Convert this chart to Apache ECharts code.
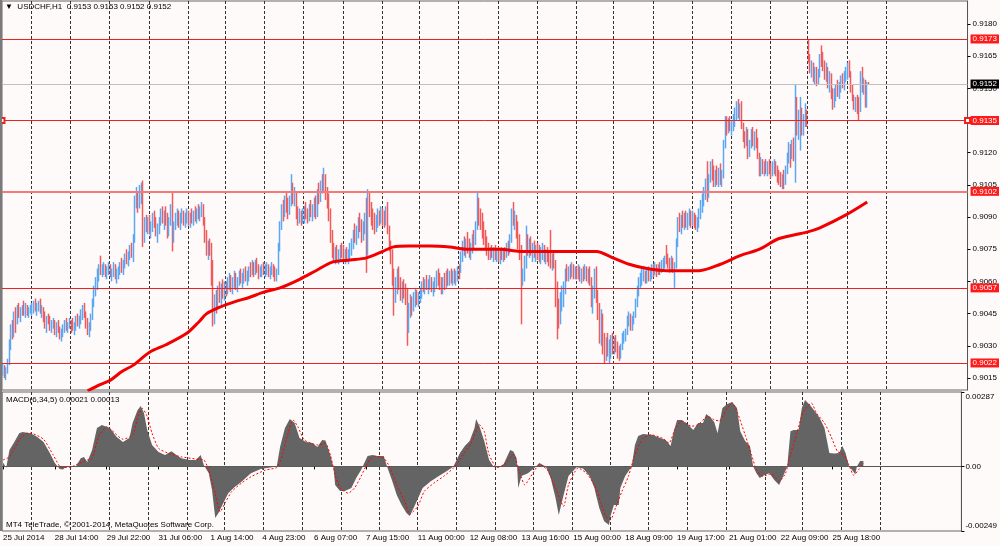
<!DOCTYPE html>
<html><head><meta charset="utf-8">
<script src="https://cdn.jsdelivr.net/npm/echarts@6/dist/echarts.min.js"></script>
<style>html,body{margin:0;padding:0;background:#fffafa;}#c{width:1000px;height:546px;}</style>
</head><body><div id="c"></div>
<script>
// Trading sessions: [day, first hour, number of H1 bars]
const sessions = [
  ['25 Jul',5,18],['28 Jul',0,24],['29 Jul',0,24],['30 Jul',0,24],['31 Jul',0,24],['1 Aug',0,23],
  ['4 Aug',0,24],['5 Aug',0,24],['6 Aug',0,24],['7 Aug',0,24],['8 Aug',0,23],
  ['11 Aug',0,24],['12 Aug',0,24],['13 Aug',0,24],['14 Aug',0,24],['15 Aug',0,23],
  ['18 Aug',0,24],['19 Aug',0,24],['20 Aug',0,24],['21 Aug',0,24],['22 Aug',0,23],
  ['25 Aug',0,24],['26 Aug',0,24],['27 Aug',0,24],['28 Aug',0,24],['29 Aug',0,23]
];
const SLOTS = 592;            // bar slots visible across the chart width
const FIRST_LABEL = '25 Jul 2014';
const LABEL_STEP = 32;
const GRID_LAST = 542;

// prices in units of 0.0001
const opens = [
9018,9020,9017,9019,9022,9031,9038,9036,9044,9040,9047,9045,9046,9047,9046,9048,9045,9046,
9047,9048,9049,9047,9049,9050,9046,9047,9042,9040,9043,9041,9039,9040,9041,9037,9039,9037,9035,9036,9039,9040,9038,9040,
9041,9040,9038,9039,9042,9041,9043,9045,9047,9044,9040,9037,9039,9043,9050,9056,9060,9064,9066,9064,9065,9066,9064,9066,
9067,9063,9064,9067,9062,9064,9065,9068,9066,9069,9071,9070,9073,9075,9073,9080,9097,9098,9095,9100,9102,9084,9087,9085,
9088,9084,9086,9090,9087,9083,9085,9088,9092,9089,9091,9088,9083,9088,9094,9080,9086,9089,9090,9087,9090,9091,9088,9090,
9092,9089,9091,9090,9092,9091,9093,9092,9094,9095,9088,9080,9075,9076,9074,9060,9045,9050,9048,9055,9053,9057,9055,
9058,9057,9059,9061,9058,9060,9063,9059,9061,9063,9062,9063,9065,9062,9064,9066,9064,9068,9065,9069,9066,9063,9064,9066,
9065,9065,9067,9064,9066,9068,9065,9062,9064,9076,9086,9094,9092,9097,9095,9093,9098,9102,9098,9100,9092,9090,9092,9088,
9091,9093,9091,9090,9094,9092,9095,9097,9091,9101,9098,9105,9104,9108,9100,9098,9090,9080,9074,9072,9074,9071,9073,9075,
9074,9071,9073,9072,9074,9076,9078,9082,9080,9084,9087,9085,9082,9086,9088,9074,9099,9094,9090,9088,9085,9089,9091,9088,
9092,9090,9088,9093,9084,9076,9070,9062,9052,9058,9062,9058,9054,9057,9055,9053,9040,9046,9050,9047,9052,9054,9051,
9053,9055,9058,9057,9059,9058,9060,9061,9057,9058,9061,9063,9060,9058,9056,9060,9058,9063,9061,9063,9062,9064,9062,9064,
9066,9065,9072,9077,9075,9078,9076,9074,9076,9080,9078,9086,9096,9090,9087,9083,9080,9078,9074,9073,9074,9072,9074,9072,
9073,9071,9073,9072,9074,9073,9076,9075,9080,9090,9088,9090,9082,9078,9073,9062,9064,9070,9078,9076,9078,9074,9076,9073,
9075,9074,9072,9074,9075,9071,9073,9072,9070,9068,9071,9068,9052,9045,9042,9050,9054,9057,9064,9062,9065,9063,9066,9064,
9065,9064,9066,9062,9064,9063,9066,9062,9064,9060,9052,9055,9063,9054,9046,9036,9040,9030,9026,9031,9028,9030,9032,
9029,9031,9029,9027,9025,9029,9034,9035,9036,9042,9043,9040,9042,9044,9050,9056,9060,9061,9063,9064,9062,9065,9063,9064,
9066,9065,9067,9064,9066,9065,9068,9069,9071,9070,9068,9066,9070,9066,9068,9078,9088,9086,9089,9087,9090,9088,9090,9091,
9088,9090,9088,9086,9087,9092,9096,9099,9102,9105,9100,9108,9114,9110,9107,9110,9108,9111,9107,9110,9124,9134,9131,9133,
9132,9133,9136,9139,9141,9139,9142,9133,9128,9127,9130,9121,9124,9128,9125,9128,9124,9119,9112,9115,9112,9114,9111,9114,
9113,9112,9114,9115,9111,9110,9108,9106,9109,9106,9112,9118,9122,9120,9124,9120,9146,9132,9136,9140,9130,9135,9137,
9173,9165,9159,9161,9155,9158,9153,9157,9164,9162,9160,9156,9158,9152,9155,9147,9143,9148,9150,9148,9151,9154,9152,9156,
9158,9160,9157,9150,9146,9143,9145,9144,9140,9156,9150,9153,9144,9153
];
const highs = [
9022,9021,9020,9024,9033,9040,9042,9046,9048,9049,9050,9048,9049,9051,9050,9049,9048,9049,
9050,9051,9052,9050,9051,9052,9049,9048,9046,9044,9045,9044,9042,9043,9042,9041,9042,9039,9038,9040,9042,9043,9041,9043,
9042,9043,9041,9044,9045,9044,9047,9049,9050,9046,9043,9041,9045,9052,9058,9062,9066,9068,9072,9068,9069,9068,9067,9069,
9068,9066,9069,9068,9066,9067,9069,9071,9070,9073,9075,9074,9077,9078,9082,9100,9104,9102,9105,9106,9107,9090,9091,9090,
9091,9088,9092,9093,9090,9087,9090,9094,9095,9093,9095,9092,9090,9096,9102,9088,9092,9094,9093,9092,9094,9093,9092,9094,
9093,9092,9094,9093,9095,9094,9096,9095,9097,9096,9090,9084,9079,9080,9078,9070,9054,9056,9058,9060,9059,9061,9060,
9060,9062,9064,9063,9062,9065,9064,9062,9065,9066,9064,9066,9067,9065,9067,9069,9070,9069,9070,9071,9068,9067,9068,9069,
9068,9069,9068,9067,9069,9068,9067,9066,9078,9088,9096,9098,9100,9102,9099,9100,9110,9106,9104,9102,9095,9094,9093,9094,
9095,9097,9094,9096,9098,9096,9099,9100,9103,9106,9107,9110,9113,9110,9104,9101,9094,9084,9078,9076,9077,9075,9077,9078,
9077,9075,9076,9075,9078,9080,9084,9087,9086,9090,9092,9089,9088,9092,9099,9103,9102,9097,9094,9092,9091,9094,9093,9095,
9094,9093,9095,9097,9086,9079,9075,9066,9062,9066,9067,9062,9060,9061,9059,9057,9050,9054,9053,9055,9057,9056,9055,
9057,9060,9062,9061,9063,9061,9063,9062,9060,9062,9065,9066,9064,9062,9062,9064,9065,9066,9065,9066,9065,9066,9065,9067,
9068,9074,9079,9081,9080,9083,9080,9078,9082,9084,9088,9102,9099,9094,9092,9088,9084,9081,9078,9076,9077,9076,9077,9075,
9076,9075,9076,9075,9076,9078,9079,9082,9094,9097,9093,9091,9088,9082,9077,9066,9072,9086,9082,9080,9081,9078,9079,9077,
9078,9077,9076,9078,9077,9075,9076,9074,9084,9073,9074,9070,9060,9052,9055,9058,9060,9066,9068,9067,9068,9069,9068,9067,
9067,9068,9067,9066,9067,9068,9067,9066,9067,9062,9058,9066,9067,9056,9050,9047,9045,9036,9034,9036,9033,9035,9036,
9034,9035,9032,9030,9031,9036,9037,9038,9044,9046,9045,9044,9046,9052,9058,9062,9064,9066,9067,9065,9066,9067,9066,9068,
9068,9069,9068,9068,9069,9070,9071,9072,9077,9073,9071,9072,9071,9069,9080,9090,9092,9091,9093,9092,9093,9092,9094,9093,
9093,9092,9091,9090,9094,9098,9101,9104,9108,9116,9110,9116,9117,9114,9112,9114,9113,9115,9112,9126,9137,9137,9136,9137,
9135,9138,9141,9144,9145,9143,9144,9134,9130,9132,9131,9126,9131,9132,9130,9131,9127,9120,9118,9117,9116,9117,9116,9117,
9115,9116,9117,9116,9114,9112,9111,9110,9112,9114,9120,9125,9124,9126,9127,9152,9146,9140,9146,9141,9138,9143,9140,
9173,9166,9163,9162,9160,9160,9159,9166,9170,9167,9163,9162,9160,9158,9157,9150,9150,9152,9154,9153,9156,9157,9158,9160,
9162,9163,9158,9152,9147,9146,9147,9146,9158,9160,9155,9154,9153,9153
];
const lows = [
9016,9015,9014,9017,9021,9028,9033,9034,9036,9040,9043,9041,9044,9044,9043,9044,9043,9045,
9044,9045,9046,9044,9046,9045,9043,9041,9038,9036,9040,9037,9036,9038,9035,9034,9036,9033,9032,9034,9036,9037,9036,9038,
9036,9037,9035,9037,9039,9038,9040,9042,9043,9038,9035,9034,9037,9042,9048,9053,9056,9060,9063,9062,9063,9062,9061,9063,
9062,9060,9062,9061,9059,9061,9063,9064,9063,9066,9068,9067,9070,9071,9069,9078,9094,9092,9094,9096,9076,9078,9083,9082,
9082,9080,9083,9085,9081,9078,9082,9086,9087,9084,9086,9080,9081,9086,9074,9078,9084,9086,9085,9084,9087,9086,9085,9087,
9086,9085,9087,9086,9088,9087,9089,9088,9090,9086,9078,9072,9070,9072,9058,9039,9040,9045,9047,9050,9049,9052,9051,
9053,9054,9056,9055,9054,9057,9056,9055,9058,9059,9057,9059,9060,9058,9060,9062,9063,9062,9063,9064,9061,9062,9062,9063,
9062,9063,9062,9061,9063,9062,9060,9060,9063,9074,9084,9088,9090,9092,9089,9091,9095,9096,9095,9089,9086,9087,9086,9087,
9087,9089,9087,9088,9090,9088,9090,9089,9090,9096,9097,9101,9102,9098,9094,9088,9078,9071,9069,9068,9070,9068,9070,9071,
9069,9068,9069,9068,9070,9072,9075,9078,9077,9080,9083,9078,9079,9082,9064,9072,9090,9086,9084,9082,9083,9085,9086,9087,
9086,9085,9086,9082,9074,9068,9058,9044,9050,9054,9056,9051,9050,9052,9049,9030,9036,9043,9044,9046,9048,9049,9048,
9050,9052,9055,9054,9056,9054,9056,9055,9053,9055,9057,9058,9056,9054,9054,9056,9057,9058,9058,9059,9058,9059,9058,9060,
9061,9064,9069,9072,9071,9073,9071,9070,9073,9075,9077,9084,9086,9084,9080,9077,9075,9072,9070,9070,9071,9069,9070,9069,
9069,9068,9070,9069,9070,9071,9072,9073,9078,9086,9084,9080,9075,9070,9040,9058,9060,9066,9072,9071,9072,9069,9071,9069,
9070,9069,9068,9070,9069,9068,9069,9067,9066,9065,9066,9048,9033,9038,9040,9046,9048,9054,9060,9060,9061,9062,9061,9061,
9061,9061,9060,9059,9060,9061,9060,9059,9058,9048,9045,9052,9050,9042,9031,9030,9026,9022,9023,9025,9022,9024,9026,
9026,9027,9024,9023,9024,9028,9031,9032,9035,9039,9037,9037,9040,9043,9048,9053,9057,9058,9060,9059,9059,9060,9060,9061,
9062,9063,9062,9063,9063,9064,9065,9066,9068,9066,9064,9065,9064,9057,9066,9076,9083,9082,9085,9084,9085,9084,9086,9085,
9086,9085,9084,9083,9085,9089,9092,9095,9098,9097,9099,9106,9107,9104,9104,9105,9104,9105,9104,9108,9122,9128,9129,9130,
9128,9130,9132,9135,9136,9135,9131,9125,9122,9123,9117,9118,9122,9123,9121,9122,9117,9109,9109,9110,9109,9110,9109,9110,
9108,9109,9110,9109,9106,9105,9104,9103,9103,9105,9110,9115,9113,9117,9116,9106,9128,9126,9121,9128,9128,9132,9132,
9162,9157,9155,9153,9152,9151,9152,9155,9160,9158,9154,9153,9150,9148,9145,9140,9141,9144,9146,9145,9148,9150,9149,9153,
9154,9155,9148,9144,9140,9139,9138,9135,9139,9148,9147,9141,9141,9152
];
const closes = [
9020,9017,9019,9022,9031,9038,9036,9044,9040,9047,9045,9046,9047,9046,9048,9045,9046,9047,
9048,9049,9047,9049,9050,9046,9047,9042,9040,9043,9041,9039,9040,9041,9037,9039,9037,9035,9036,9039,9040,9038,9040,9041,
9040,9038,9039,9042,9041,9043,9045,9047,9044,9040,9037,9039,9043,9050,9056,9060,9064,9066,9064,9065,9066,9064,9066,9067,
9063,9064,9067,9062,9064,9065,9068,9066,9069,9071,9070,9073,9075,9073,9080,9097,9098,9095,9100,9102,9084,9087,9085,9088,
9084,9086,9090,9087,9083,9085,9088,9092,9089,9091,9088,9083,9088,9094,9080,9086,9089,9090,9087,9090,9091,9088,9090,9092,
9089,9091,9090,9092,9091,9093,9092,9094,9095,9088,9080,9075,9076,9074,9060,9045,9050,9048,9055,9053,9057,9055,9058,
9057,9059,9061,9058,9060,9063,9059,9061,9063,9062,9063,9065,9062,9064,9066,9064,9068,9065,9069,9066,9063,9064,9066,9065,
9065,9067,9064,9066,9068,9065,9062,9064,9076,9086,9094,9092,9097,9095,9093,9098,9102,9098,9100,9092,9090,9092,9088,9091,
9093,9091,9090,9094,9092,9095,9097,9091,9101,9098,9105,9104,9108,9100,9098,9090,9080,9074,9072,9074,9071,9073,9075,9074,
9071,9073,9072,9074,9076,9078,9082,9080,9084,9087,9085,9082,9086,9088,9074,9099,9094,9090,9088,9085,9089,9091,9088,9092,
9090,9088,9093,9084,9076,9070,9062,9052,9058,9062,9058,9054,9057,9055,9053,9040,9046,9050,9047,9052,9054,9051,9053,
9055,9058,9057,9059,9058,9060,9061,9057,9058,9061,9063,9060,9058,9056,9060,9058,9063,9061,9063,9062,9064,9062,9064,9066,
9065,9072,9077,9075,9078,9076,9074,9076,9080,9078,9086,9096,9090,9087,9083,9080,9078,9074,9073,9074,9072,9074,9072,9073,
9071,9073,9072,9074,9073,9076,9075,9080,9090,9088,9090,9082,9078,9073,9062,9064,9070,9078,9076,9078,9074,9076,9073,9075,
9074,9072,9074,9075,9071,9073,9072,9070,9068,9071,9068,9052,9045,9042,9050,9054,9057,9064,9062,9065,9063,9066,9064,9065,
9064,9066,9062,9064,9063,9066,9062,9064,9060,9052,9055,9063,9054,9046,9036,9040,9030,9026,9031,9028,9030,9032,9029,
9031,9029,9027,9025,9029,9034,9035,9036,9042,9043,9040,9042,9044,9050,9056,9060,9061,9063,9064,9062,9065,9063,9064,9066,
9065,9067,9064,9066,9065,9068,9069,9071,9070,9068,9066,9070,9066,9068,9078,9088,9086,9089,9087,9090,9088,9090,9091,9088,
9090,9088,9086,9087,9092,9096,9099,9102,9105,9100,9108,9114,9110,9107,9110,9108,9111,9107,9110,9124,9134,9131,9133,9132,
9133,9136,9139,9141,9139,9142,9133,9128,9127,9130,9121,9124,9128,9125,9128,9124,9119,9112,9115,9112,9114,9111,9114,9113,
9112,9114,9115,9111,9110,9108,9106,9109,9106,9112,9118,9122,9120,9124,9120,9146,9132,9136,9140,9130,9135,9137,9135,
9165,9159,9161,9155,9158,9153,9157,9164,9162,9160,9156,9158,9152,9155,9147,9143,9148,9150,9148,9151,9154,9152,9156,9158,
9160,9157,9150,9146,9143,9145,9144,9140,9156,9150,9153,9144,9153,9152
];

// moving average (red), read at sample bars, price units 0.0001
const maBars = [52,60,66,73,80,90,100,113,120,125,133,142,151,160,170,182,192,202,213,223,233,239,249,262,274,284,305,317,341,364,374,384,395,407,419,427,440,452,464,476,493,501,517,530];
const maValues = [9009,9012,9014,9018,9021,9027,9030.5,9036,9041,9045,9048,9050.5,9052.5,9055,9057,9061,9065,9069,9070,9071,9074,9076,9076.5,9076.5,9076,9075,9075,9074,9074,9074,9071,9068,9066,9065,9065,9065,9068,9072,9075,9080,9083,9085,9091,9097];

// MACD(6,34,5), units of 0.00001, read at sample bars
const macdBars = [0,2,4,7,10,12,17,21,25,29,32,35,37,39,42,45,48,50,52,55,58,61,66,70,74,78,80,83,85,87,89,92,96,100,104,107,110,115,119,122,124,127,129,131,133,136,139,143,147,153,159,166,169,171,174,177,180,183,187,191,194,197,199,202,204,205,208,211,215,218,221,223,225,228,231,235,237,240,243,246,249,251,254,259,264,269,274,278,282,285,288,291,292,294,297,300,303,306,309,313,315,317,318,320,324,329,331,335,338,341,343,346,349,354,358,362,365,366,368,371,374,375,377,380,381,384,388,390,392,395,401,404,409,412,414,416,419,423,426,429,432,434,437,439,441,444,447,450,453,455,458,461,463,465,467,470,473,476,479,481,484,486,488,491,493,495,498,501,504,507,510,513,516,518,520,522,524,526,527,529,531];
const macdValues = [15,-5,63,94,128,133,128,114,94,51,13,-10,-12,0,-3,0,32,36,17,63,148,160,148,114,94,110,167,217,233,206,140,83,56,44,59,44,32,25,25,44,5,-26,-91,-199,-180,-141,-103,-79,-60,-26,-10,-3,2,75,148,183,167,110,94,90,75,102,100,44,-6,-72,-95,-95,-83,-45,-14,13,40,44,40,40,0,-52,-110,-149,-180,-191,-153,-83,-57,-37,-18,0,52,79,98,148,183,156,98,25,-3,-3,9,63,58,32,-83,-37,-26,0,13,0,-45,-122,-187,-110,-37,-3,-8,-37,-83,-110,-160,-211,-226,-190,-149,-149,-83,-37,0,83,117,125,121,113,102,79,136,179,179,160,140,167,167,202,187,170,128,225,241,248,225,136,98,79,0,-26,-45,-33,-26,-52,-72,-45,0,136,140,140,225,256,237,213,187,148,52,50,52,79,52,4,-14,-30,0,21,21];
const signalBars = [0,4,10,15,18,25,31,36,41,47,52,55,59,64,67,74,80,84,86,89,92,96,102,110,121,124,127,131,134,137,141,147,153,162,169,172,176,179,182,186,194,199,202,205,208,213,217,221,225,229,235,239,243,248,251,256,260,266,272,278,284,289,294,297,300,305,309,315,319,322,327,331,336,341,346,349,355,360,365,369,372,375,378,382,386,390,395,400,407,411,415,419,425,429,435,439,442,447,450,453,458,462,465,469,474,479,483,486,490,494,499,502,507,511,515,519,522,525,528,531];
const signalValues = [25,37,102,128,127,105,44,-4,-4,12,25,31,115,153,140,105,121,205,224,192,128,70,51,37,27,25,-14,-104,-175,-142,-98,-65,-40,-14,-4,37,128,179,153,102,83,89,45,-32,-83,-103,-83,-38,13,39,32,-6,-71,-135,-184,-154,-96,-64,-38,-6,45,90,161,135,45,-4,4,45,-26,-71,-26,7,-13,-83,-154,-71,-6,-26,-71,-141,-192,-205,-160,-96,-38,45,109,122,109,90,148,174,155,161,193,180,175,225,244,212,122,45,-13,-38,-29,-57,-26,45,129,212,244,206,167,116,58,45,7,-34,-13,13];

// horizontal levels and axis ticks
const levelLines = [9173, 9135, 9102, 9057, 9022];
const lastPrice = 9152;
const priceTicks = [9015,9030,9045,9060,9075,9090,9105,9120,9135,9150,9165,9180];
const macdTicks = [287, 0, -249];
const priceRange = [9009.4, 9190.7];
const macdRange = [-249, 287];

// ---------- build ----------
const categories = []; const dayStarts = [];
sessions.forEach(([d, h0, n]) => {
  dayStarts.push(categories.length);
  for (let k = 0; k < n; k++) categories.push(d + ' ' + String(h0 + k).padStart(2, '0') + ':00');
});
categories.length = SLOTS;
const dayStartSet = new Set(dayStarts.filter(i => i > 0 && i <= GRID_LAST));
const lastBar = closes.length - 1;
const P = v => v / 1e4, M = v => v / 1e5;
const candles = opens.map((o, i) => [P(o), P(closes[i]), P(lows[i]), P(highs[i])]);
const FONT = '"Liberation Sans", Arial, sans-serif';
const BLUE = '#5aa8f4', RED = '#f25a5a';

const splitLine = { show: true, interval: (i) => dayStartSet.has(i), lineStyle: { color: '#333', width: 1, type: [3, 2] } };
const labelInterval = (i) => i % LABEL_STEP === 0 && i <= lastBar;

function lvl(v, color, width, bg) {
  return {
    yAxis: P(v),
    lineStyle: { color: color, width: width, type: 'solid' },
    label: { show: true, position: 'end', distance: 3, formatter: P(v).toFixed(4), color: '#fff', backgroundColor: bg, padding: [1, 2, 0, 2], fontSize: 8, fontFamily: FONT }
  };
}

const chart = echarts.init(document.getElementById('c'), null, { renderer: 'canvas' });
chart.setOption({
  animation: false,
  backgroundColor: '#fffafa',
  grid: [
    { left: 2, top: 1, width: 966, height: 389, show: true, borderColor: '#666', borderWidth: 1 },
    { left: 2, top: 392, width: 966, height: 139, show: true, borderColor: '#666', borderWidth: 1 }
  ],
  xAxis: [
    { type: 'category', gridIndex: 0, data: categories, boundaryGap: true, axisLine: { show: false }, axisTick: { show: false }, axisLabel: { show: false }, splitLine: splitLine },
    { type: 'category', gridIndex: 1, data: categories, boundaryGap: true,
      axisLine: { show: true, lineStyle: { color: '#555' } },
      axisTick: { show: true, alignWithLabel: true, interval: labelInterval, length: 3, lineStyle: { color: '#000' } },
      axisLabel: { interval: labelInterval, formatter: (v, i) => i === 0 ? FIRST_LABEL : v, align: 'left', fontSize: 8, color: '#000', margin: 3, fontFamily: FONT },
      splitLine: splitLine }
  ],
  yAxis: [
    { type: 'value', gridIndex: 0, position: 'right', min: P(priceRange[0]), max: P(priceRange[1]),
      axisLine: { show: true, lineStyle: { color: '#555' } },
      axisTick: { show: true, customValues: priceTicks.map(P), length: 3, lineStyle: { color: '#000' } },
      axisLabel: { customValues: priceTicks.map(P), formatter: v => v.toFixed(4), fontSize: 8, color: '#000', margin: 5, fontFamily: FONT },
      splitLine: { show: false } },
    { type: 'value', gridIndex: 1, position: 'right', min: M(macdRange[0]), max: M(macdRange[1]),
      axisLine: { show: true, lineStyle: { color: '#555' } },
      axisTick: { show: true, customValues: macdTicks.map(M), length: 3, lineStyle: { color: '#000' } },
      axisLabel: { customValues: macdTicks.map(M), margin: 4, fontSize: 8, color: '#000', fontFamily: FONT,
        formatter: v => v > 0 ? '{t|' + v.toFixed(5) + '}' : v < 0 ? '{b|' + v.toFixed(5) + '}' : '0.00',
        rich: { t: { padding: [10, 0, 0, 0], fontSize: 8, fontFamily: FONT, color: '#000' }, b: { padding: [0, 0, 10, 0], fontSize: 8, fontFamily: FONT, color: '#000' } } },
      splitLine: { show: false } }
  ],
  graphic: [
    { type: 'rect', left: 0, top: 0, z: 100, shape: { width: 2, height: 531 }, style: { fill: '#7a7a7a' } },
    { type: 'text', left: 5, top: 3, z: 100, style: { text: '▼  USDCHF,H1  0.9153 0.9153 0.9152 0.9152', font: '8px ' + FONT, fill: '#000' } },
    { type: 'text', left: 6, top: 396, z: 100, style: { text: 'MACD(6,34,5) 0.00021 0.00013', font: '8px ' + FONT, fill: '#000' } },
    { type: 'text', left: 6, top: 521, z: 100, style: { text: 'MT4 TeleTrade, © 2001-2014, MetaQuotes Software Corp.', font: '8px ' + FONT, fill: '#000' } }
  ],
  series: [
    { name: 'USDCHF', type: 'candlestick', xAxisIndex: 0, yAxisIndex: 0, data: candles, barWidth: 1.2, large: false,
      itemStyle: { color: BLUE, color0: RED, borderColor: BLUE, borderColor0: RED, borderColorDoji: BLUE, borderWidth: 1.5 },
      markLine: { silent: true, symbol: 'none', animation: false, precision: 4, data: [
        lvl(lastPrice, '#c0c0c0', 1, '#000'),
        lvl(levelLines[0], '#f02020', 1, '#ff1a1a'),
        lvl(levelLines[2], '#f47a7a', 2, '#ff1a1a'),
        lvl(levelLines[3], '#f02020', 1, '#ff1a1a'),
        lvl(levelLines[4], '#f02020', 1, '#ff1a1a')
      ] } },
    { name: 'MA', type: 'line', xAxisIndex: 0, yAxisIndex: 0, data: maBars.map((b, i) => [b, P(maValues[i])]), symbol: 'none', smooth: 0.3,
      lineStyle: { color: '#f00000', width: 3 }, z: 5,
      markLine: { silent: true, symbol: ['emptyRect', 'emptyRect'], symbolSize: 5, animation: false, precision: 4, data: [ lvl(levelLines[1], '#f02020', 1, '#ff1a1a') ] } },
    { name: 'MACD', type: 'line', xAxisIndex: 1, yAxisIndex: 1, data: macdBars.map((b, i) => [b, M(macdValues[i])]), symbol: 'none',
      lineStyle: { width: 0 }, areaStyle: { color: '#646464', opacity: 1 } },
    { name: 'Signal', type: 'line', xAxisIndex: 1, yAxisIndex: 1, data: signalBars.map((b, i) => [b, M(signalValues[i])]), symbol: 'none', smooth: 0.2,
      lineStyle: { color: '#ff0000', width: 1, type: [2, 2] }, z: 5 }
  ]
});
</script>
</body></html>
